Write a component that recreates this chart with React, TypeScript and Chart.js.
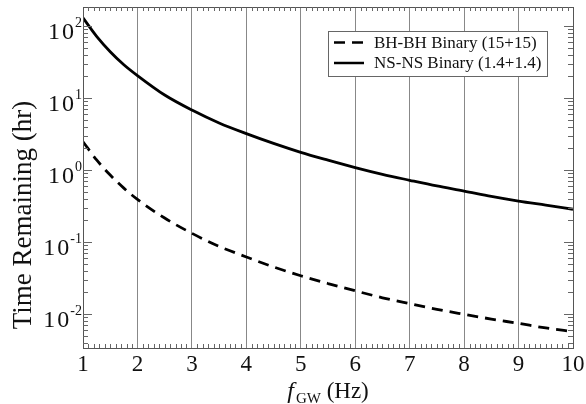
import React, { useEffect, useRef } from "react";
import { Chart, registerables } from "chart.js";

Chart.register(...registerables);

const freqs = [1, 1.25, 1.5, 1.75, 2, 2.5, 3, 3.5, 4, 4.5, 5, 5.5, 6, 6.5, 7, 7.5, 8, 8.5, 9, 9.5, 10];
const nsnsHours = [130, 72, 44, 29, 20.5, 11, 6.8, 4.5, 3.2, 2.34, 1.76, 1.37, 1.08, 0.87, 0.72, 0.6, 0.51, 0.43, 0.37, 0.325, 0.285];
const bhbhHours = [2.47, 1.38, 0.85, 0.56, 0.39, 0.215, 0.132, 0.087, 0.062, 0.045, 0.034, 0.0265, 0.021, 0.0168, 0.0139, 0.0116, 0.0099, 0.0085, 0.0074, 0.0064, 0.0057];
const seriesLabels = ["BH-BH Binary (15+15)", "NS-NS Binary (1.4+1.4)"];
const xTickLabels = ["1", "2", "3", "4", "5", "6", "7", "8", "9", "10"];
const yDecades = [-2, -1, 0, 1, 2];
const yAxisTitle = "Time Remaining (hr)";

const SERIF = '"Liberation Serif", "Times New Roman", serif';

const decorPlugin = {
  id: "decor",
  afterDraw(chart: any) {
    const ctx = chart.ctx as CanvasRenderingContext2D;
    const { left, right, top, bottom } = chart.chartArea;
    const xs = chart.scales.x;
    const ys = chart.scales.y;
    ctx.save();
    // frame
    ctx.strokeStyle = "#555";
    ctx.lineWidth = 1;
    ctx.strokeRect(Math.round(left) + 0.5, Math.round(top) + 0.5, Math.round(right - left), Math.round(bottom - top));
    // x minor ticks
    ctx.strokeStyle = "#666";
    ctx.beginPath();
    for (let i = 11; i < 100; i++) {
      if (i % 10 === 0) continue;
      const px = Math.round(xs.getPixelForValue(i / 10)) + 0.5;
      ctx.moveTo(px, bottom);
      ctx.lineTo(px, bottom - 4);
      ctx.moveTo(px, top);
      ctx.lineTo(px, top + 4);
    }
    ctx.stroke();
    // y ticks
    ctx.beginPath();
    for (let d = -3; d <= 2; d++) {
      for (let k = 1; k <= 9; k++) {
        const v = k * Math.pow(10, d);
        if (v < ys.min || v > ys.max) continue;
        const py = Math.round(ys.getPixelForValue(v)) + 0.5;
        const len = k === 1 ? 9 : 5;
        ctx.moveTo(left, py);
        ctx.lineTo(left + len, py);
        ctx.moveTo(right, py);
        ctx.lineTo(right - len, py);
      }
    }
    ctx.stroke();
    // y labels
    ctx.fillStyle = "#111";
    ctx.textBaseline = "alphabetic";
    for (const d of yDecades) {
      const py = ys.getPixelForValue(Math.pow(10, d));
      const sup = String(d);
      ctx.font = `14px ${SERIF}`;
      (ctx as any).letterSpacing = "0px";
      const supW = ctx.measureText(sup).width;
      ctx.textAlign = "left";
      const supX = left - 1 - supW;
      ctx.fillText(sup, supX, py + 1);
      ctx.font = `24px ${SERIF}`;
      (ctx as any).letterSpacing = "2px";
      ctx.textAlign = "right";
      ctx.fillText("10", supX + 1, py + 13);
      (ctx as any).letterSpacing = "0px";
    }
    // x labels
    ctx.font = `23px ${SERIF}`;
    ctx.textAlign = "center";
    xTickLabels.forEach((t) => {
      const px = xs.getPixelForValue(Number(t));
      ctx.fillText(t, px, bottom + 23);
    });
    // x title: f_GW (Hz)
    {
      const cx = (left + right) / 2;
      const baseY = 398;
      ctx.font = `italic 24px ${SERIF}`;
      const fW = ctx.measureText("f").width;
      ctx.font = `15px ${SERIF}`;
      const gwW = ctx.measureText("GW").width;
      ctx.font = `23px ${SERIF}`;
      const hzW = ctx.measureText(" (Hz)").width;
      let x0 = cx - (fW + gwW + hzW + 2) / 2;
      ctx.textAlign = "left";
      ctx.font = `italic 24px ${SERIF}`;
      ctx.fillText("f", x0, baseY);
      x0 += fW + 2;
      ctx.font = `15px ${SERIF}`;
      ctx.fillText("GW", x0, baseY + 5);
      x0 += gwW;
      ctx.font = `23px ${SERIF}`;
      ctx.fillText(" (Hz)", x0, baseY);
    }
    // y title
    ctx.save();
    ctx.translate(31, 215);
    ctx.rotate(-Math.PI / 2);
    ctx.font = `27px ${SERIF}`;
    ctx.textAlign = "center";
    ctx.textBaseline = "alphabetic";
    ctx.fillText(yAxisTitle, 0, 0);
    ctx.restore();
    // legend
    {
      const bx = 328, by = 31, bw = 219, bh = 45;
      ctx.fillStyle = "#fff";
      ctx.fillRect(bx, by, bw, bh);
      ctx.strokeStyle = "#666";
      ctx.lineWidth = 1;
      ctx.strokeRect(bx + 0.5, by + 0.5, bw, bh);
      const rows = [42.5, 63];
      chart.data.datasets.forEach((ds: any, i: number) => {
        const y = rows[i];
        ctx.strokeStyle = "#000";
        ctx.lineWidth = 2.5;
        ctx.setLineDash(ds.borderDash || []);
        ctx.beginPath();
        ctx.moveTo(334, y);
        ctx.lineTo(364, y);
        ctx.stroke();
        ctx.setLineDash([]);
        ctx.fillStyle = "#111";
        ctx.font = `17px ${SERIF}`;
        ctx.textAlign = "left";
        ctx.textBaseline = "middle";
        ctx.fillText(ds.label, 374, y + 1);
      });
    }
    ctx.restore();
  },
};

export default function App() {
  const ref = useRef<HTMLCanvasElement>(null);
  useEffect(() => {
    if (!ref.current) return;
    const chart = new Chart(ref.current, {
      type: "line",
      data: {
        datasets: [
          {
            label: seriesLabels[0],
            data: freqs.map((f, i) => ({ x: f, y: bhbhHours[i] })),
            borderColor: "#000",
            borderWidth: 2.8,
            borderDash: [11, 7],
            pointRadius: 0,
            tension: 0.4,
            cubicInterpolationMode: "monotone",
          },
          {
            label: seriesLabels[1],
            data: freqs.map((f, i) => ({ x: f, y: nsnsHours[i] })),
            borderColor: "#000",
            borderWidth: 2.8,
            pointRadius: 0,
            tension: 0.4,
            cubicInterpolationMode: "monotone",
          },
        ],
      },
      options: {
        animation: false,
        responsive: false,
        layout: { padding: { top: 7, right: 13, left: 0, bottom: 0 } },
        plugins: { legend: { display: false }, tooltip: { enabled: false } },
        scales: {
          x: {
            type: "linear",
            min: 1,
            max: 10,
            ticks: { display: false, stepSize: 1 },
            grid: { display: true, color: "#888", lineWidth: 1, drawTicks: false },
            border: { display: false },
            afterFit: (s: any) => {
              s.height = 56;
            },
          },
          y: {
            type: "logarithmic",
            min: 0.00337,
            max: 183.6,
            ticks: { display: false },
            grid: { display: false, drawTicks: false },
            border: { display: false },
            afterFit: (s: any) => {
              s.width = 83;
            },
          },
        },
      },
      plugins: [decorPlugin],
    });
    return () => chart.destroy();
  }, []);
  return (
    <div style={{ position: "fixed", left: 0, top: 0, width: 586, height: 404, background: "#fff" }}>
      <canvas ref={ref} width={586} height={404} />
    </div>
  );
}
